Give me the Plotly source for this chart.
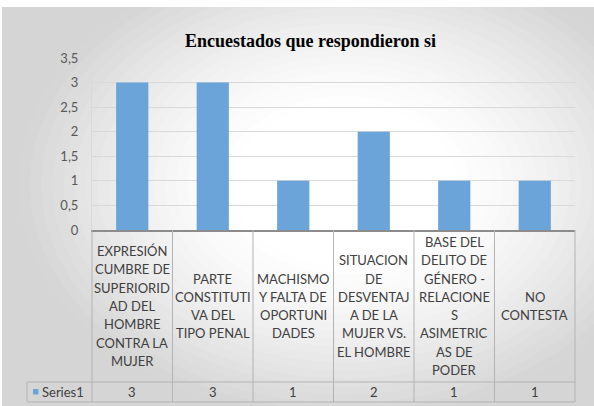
import plotly.graph_objects as go

# ---- data ----
categories = [
    "EXPRESIÓN<br>CUMBRE DE<br>SUPERIORID<br>AD DEL<br>HOMBRE<br>CONTRA LA<br>MUJER",
    "PARTE<br>CONSTITUTI<br>VA DEL<br>TIPO PENAL",
    "MACHISMO<br>Y FALTA DE<br>OPORTUNI<br>DADES",
    "SITUACION<br>DE<br>DESVENTAJ<br>A DE LA<br>MUJER VS.<br>EL HOMBRE",
    "BASE DEL<br>DELITO DE<br>GÉNERO -<br>RELACIONE<br>S<br>ASIMETRIC<br>AS DE<br>PODER",
    "NO<br>CONTESTA",
]
values = [3, 3, 1, 2, 1, 1]
series_name = "Series1"
title_text = "Encuestados que respondieron si"
y_tickvals = [0, 0.5, 1, 1.5, 2, 2.5, 3, 3.5]
y_ticktext = ["0", "0,5", "1", "1,5", "2", "2,5", "3", "3,5"]

# ---- geometry (pixels) ----
W, H = 594, 406
PL, PR, PT, PB = 92, 575, 58, 230  # plot area
pw, ph = PR - PL, PB - PT


def px_x(px):
    return (px - PL) / pw


def px_y(py):
    return (PB - py) / ph


BAR = "#6aa4d9"
TXT = "#404040"
GRID = "#d9d9d9"
TABLE = "#b3b3b3"
FONT = "Lato"

xs = list(range(len(categories)))

fig = go.Figure()
fig.add_trace(go.Bar(x=xs, y=values, marker=dict(color=BAR, line=dict(width=0)),
                     width=0.4, name=series_name, hoverinfo="skip"))

shapes = []
# radial gradient background built from concentric ellipses
cx, cy, ax, ay = 345, 185, 300, 215
N = 40
for k in range(N, -1, -1):
    s = 0.3 + 1.5 * k / N
    t = max(0.0, min(1.0, (s - 0.35) / 0.75))
    c = int(round(255 - 42 * t ** 1.4))
    col = f"rgb({c},{c},{c})"
    shapes.append(dict(type="circle", xref="paper", yref="paper", layer="below",
                       x0=px_x(cx - ax * s), x1=px_x(cx + ax * s),
                       y0=px_y(cy + ay * s), y1=px_y(cy - ay * s),
                       fillcolor=col, line=dict(width=0)))
# white margins of the picture
shapes.append(dict(type="rect", xref="paper", yref="paper", layer="below",
                   x0=px_x(-10), x1=px_x(W + 10), y0=px_y(7), y1=px_y(-10),
                   fillcolor="white", line=dict(width=0)))
shapes.append(dict(type="rect", xref="paper", yref="paper", layer="below",
                   x0=px_x(-10), x1=px_x(2), y0=px_y(H + 10), y1=px_y(-10),
                   fillcolor="white", line=dict(width=0)))

# data table grid
ROW1 = 382
ROW2 = 402
for yy in (ROW1, ROW2):
    shapes.append(dict(type="line", xref="paper", yref="paper",
                       x0=px_x(27), x1=px_x(PR), y0=px_y(yy), y1=px_y(yy),
                       line=dict(color=TABLE, width=1)))
shapes.append(dict(type="line", xref="paper", yref="paper",
                   x0=px_x(27), x1=px_x(27), y0=px_y(ROW1), y1=px_y(ROW2),
                   line=dict(color=TABLE, width=1)))
for i in range(len(categories) + 1):
    xb = i - 0.5
    if i == 0:
        shapes.append(dict(type="line", xref="paper", yref="paper",
                           x0=0, x1=0, y0=px_y(PB), y1=px_y(ROW2),
                           line=dict(color=TABLE, width=1)))
    elif i == len(categories):
        shapes.append(dict(type="line", xref="paper", yref="paper",
                           x0=1, x1=1, y0=px_y(PB), y1=px_y(ROW2),
                           line=dict(color=TABLE, width=1)))
    else:
        shapes.append(dict(type="line", xref="x", yref="paper",
                           x0=xb, x1=xb, y0=px_y(PB), y1=px_y(ROW2),
                           line=dict(color=TABLE, width=1)))
# legend key
shapes.append(dict(type="rect", xref="paper", yref="paper",
                   x0=px_x(33), x1=px_x(38.5), y0=px_y(394.5), y1=px_y(389),
                   fillcolor=BAR, line=dict(width=0)))

annotations = []
annotations.append(dict(text=f"<b>{title_text}</b>", xref="paper", yref="paper",
                        x=px_x(310), y=px_y(41), showarrow=False,
                        xanchor="center", yanchor="middle",
                        font=dict(family="Liberation Serif", size=18, color="black")))
LS = 18.3
HC = (PB + ROW1) / 2
for i, lab in enumerate(categories):
    lines = lab.split("<br>")
    n = len(lines)
    for j, ln in enumerate(lines):
        yy = HC + (j - (n - 1) / 2) * LS
        annotations.append(dict(text=ln, xref="x", yref="paper", x=i, y=px_y(yy),
                                showarrow=False, xanchor="center", yanchor="middle",
                                font=dict(family=FONT, size=13, color=TXT)))
VC = (ROW1 + ROW2) / 2
for i, v in enumerate(values):
    annotations.append(dict(text=str(v), xref="x", yref="paper", x=i, y=px_y(VC),
                            showarrow=False, xanchor="center", yanchor="middle",
                            font=dict(family=FONT, size=13, color=TXT)))
annotations.append(dict(text=series_name, xref="paper", yref="paper",
                        x=px_x(40), y=px_y(VC), showarrow=False,
                        xanchor="left", yanchor="middle",
                        font=dict(family=FONT, size=13, color=TXT)))

fig.update_layout(
    width=W, height=H, autosize=False,
    margin=dict(l=PL, r=W - PR, t=PT, b=H - PB, pad=0),
    paper_bgcolor="rgb(213,213,213)",
    plot_bgcolor="rgba(0,0,0,0)",
    showlegend=False,
    shapes=shapes,
    annotations=annotations,
    xaxis=dict(range=[-0.5, len(categories) - 0.5], showticklabels=False,
               showgrid=False, zeroline=False, ticks="",
               showline=True, linecolor="#8c8c8c", linewidth=2),
    yaxis=dict(range=[0, 3.5], tickvals=y_tickvals, ticktext=y_ticktext,
               showgrid=True, gridcolor=GRID, gridwidth=1, zeroline=False,
               showline=True, linecolor=GRID, linewidth=1, ticks="",
               ticklabelstandoff=10,
               tickfont=dict(family=FONT, size=13, color="#595959")),
)

fig.write_html("out.html")
